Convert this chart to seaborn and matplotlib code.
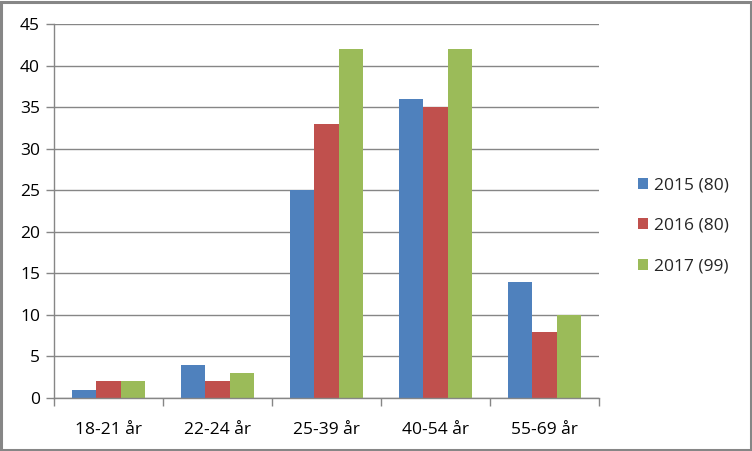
import matplotlib
matplotlib.use("Agg")
import matplotlib.pyplot as plt
import seaborn as sns
import pandas as pd
from matplotlib.patches import Rectangle

categories = ["18-21 år", "22-24 år", "25-39 år", "40-54 år", "55-69 år"]
series_names = ["2015 (80)", "2016 (80)", "2017 (99)"]
values_2015 = [1, 4, 25, 36, 14]
values_2016 = [2, 2, 33, 35, 8]
values_2017 = [2, 3, 42, 42, 10]
colors = ["#4F81BD", "#C0504D", "#9BBB59"]

rows = []
for name, vals in zip(series_names, [values_2015, values_2016, values_2017]):
    for c, v in zip(categories, vals):
        rows.append({"cat": c, "series": name, "value": v})
df = pd.DataFrame(rows)

sns.set_theme(style="white")
plt.rcParams["font.family"] = ["Open Sans", "DejaVu Sans"]

fig = plt.figure(figsize=(7.52, 4.51), dpi=100)
ax = fig.add_axes([54/752, 1 - 398/451, (599-54)/752, (398-24)/451])

sns.barplot(data=df, x="cat", y="value", hue="series", palette=colors,
            width=0.67, gap=0, ax=ax, saturation=1, legend=True, errorbar=None,
            linewidth=0, edgecolor="none")

grid_c = "#868686"
ax.set_ylim(0, 45)
ax.set_xlim(-0.5, 4.5)
ax.set_yticks(range(0, 46, 5))
ax.yaxis.grid(True, color=grid_c, linewidth=1)
ax.set_axisbelow(True)
for s in ["top", "right"]:
    ax.spines[s].set_visible(False)
for s in ["left", "bottom"]:
    ax.spines[s].set_color(grid_c)
    ax.spines[s].set_linewidth(1)
ax.set_xlabel("")
ax.set_ylabel("")
fs = 12.5
ax.tick_params(axis="y", direction="out", length=6, color=grid_c, width=1,
               labelsize=fs, pad=4, left=True, labelcolor="black")
ax.set_xticks(range(5))
ax.set_xticklabels(categories)
ax.tick_params(axis="x", length=0, labelsize=fs, pad=17, labelcolor="black")
ax.set_xticks([-0.5, 0.5, 1.5, 2.5, 3.5, 4.5], minor=True)
ax.tick_params(axis="x", which="minor", direction="out", length=6, color=grid_c,
               width=1, bottom=True)

handles, labels = ax.get_legend_handles_labels()
leg = ax.legend(handles, labels, loc="center left", bbox_to_anchor=(622/752, 1 - 226/451),
                bbox_transform=fig.transFigure, frameon=False, fontsize=fs,
                handlelength=0.6, handleheight=0.6, handletextpad=0.35,
                labelspacing=1.4)

fig.patches.append(Rectangle((1.5/752, 1.5/451), 1 - 3/752, 1 - 3/451,
                             transform=fig.transFigure, fill=False,
                             edgecolor="#868686", linewidth=2.2))

fig.savefig("out.png", dpi=100)
